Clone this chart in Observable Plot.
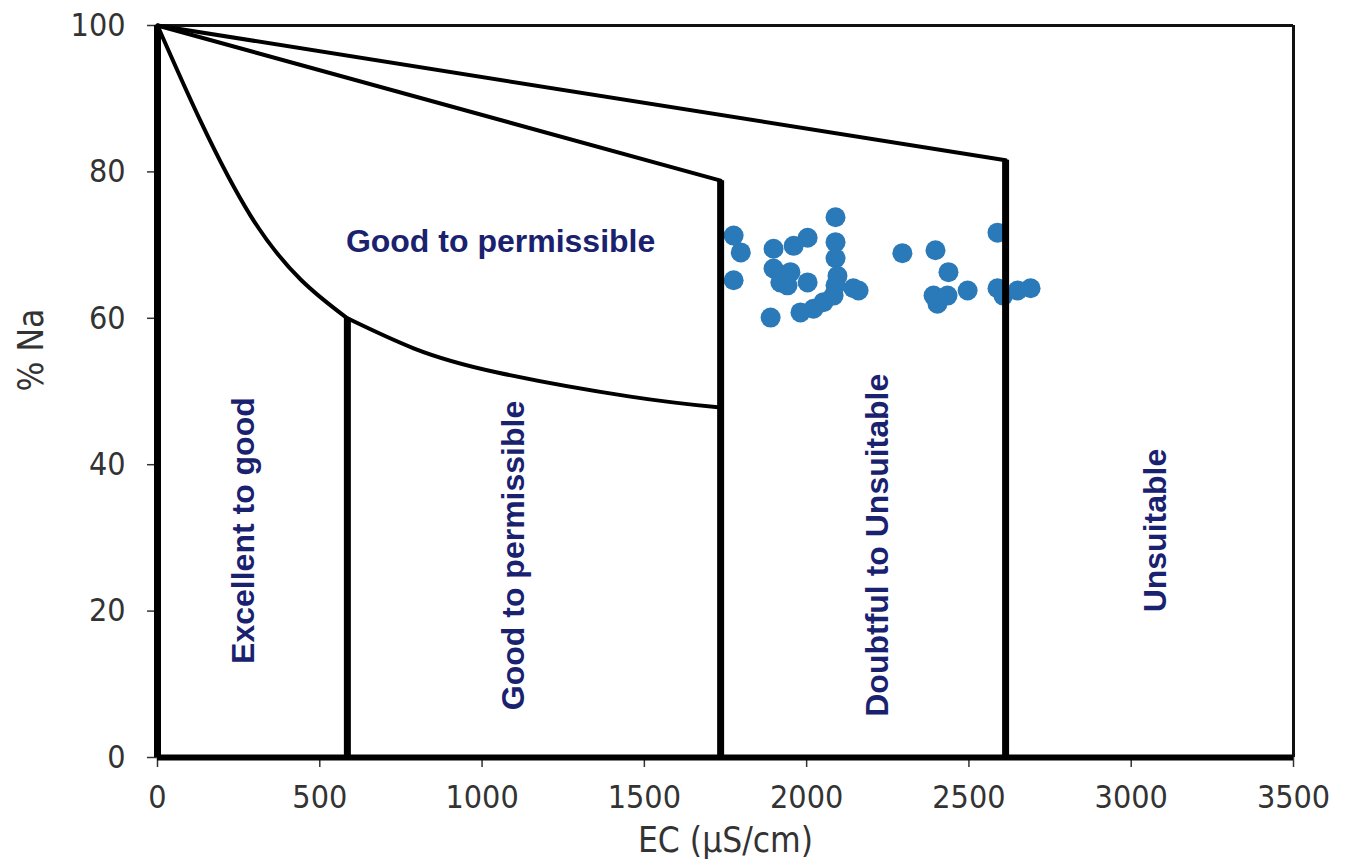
<!DOCTYPE html>
<html><head><meta charset="utf-8">
<script src="https://cdn.jsdelivr.net/npm/d3@7"></script>
<script src="https://cdn.jsdelivr.net/npm/@observablehq/plot@0.6"></script>
<style>body{margin:0;background:#fff}</style>
</head><body><div id="chart"></div>
<script>
// Sample points: EC (µS/cm) and % Na
const sampleEC = [1775,1797,1775,1898,2003,1960,1898,1919,2003,1950,1941,1889,1981,2021,2052,2083,2089,2089,2089,2095,2089,2144,2160,2295,2397,2437,2391,2403,2434,2496,2588,2588,2606,2650,2690];
const sampleNa = [71.3,69.0,65.2,69.5,71.0,69.9,66.8,64.9,64.9,66.3,64.5,60.1,60.8,61.3,62.2,63.1,73.8,70.4,68.2,65.8,64.5,64.1,63.8,68.9,69.3,66.3,63.1,62.0,63.1,63.8,71.7,64.1,63.1,63.8,64.1];

// Boundary: Excellent-to-good curve
const excellentCurveEC = [0,132,287,441,585];
const excellentCurveNa = [100,87,74,65.3,60];
// Boundary: Good-to-permissible lower curve
const goodCurveEC = [585,789,1047,1457,1735];
const goodCurveNa = [60,55.9,52.6,49.3,47.8];
// Upper straight boundaries
const goodTopEC = [0,1735];
const goodTopNa = [100,78.8];
const doubtfulTopEC = [0,2613];
const doubtfulTopNa = [100,81.6];
// Vertical dividers
const dividerEC = [585,1735,2613];
const dividerTopNa = [60,78.8,81.6];

// Zone labels
const zoneText = ["Excellent to good","Good to permissible","Doubtful to Unsuitable","Unsuitable"];
const zoneEC = [265,1097,2218,3075];
const zoneNa = [31,27.6,29,31];
const topZoneText = ["Good to permissible"];
const topZoneEC = [1057];
const topZoneNa = [70.4];

const xTicks = [0,500,1000,1500,2000,2500,3000,3500];
const yTicks = [0,20,40,60,80,100];

const toXY = (xs, ys) => xs.map((x, i) => ({x, y: ys[i]}));
const samples = toXY(sampleEC, sampleNa);
const excellentCurve = toXY(excellentCurveEC, excellentCurveNa);
const goodCurve = toXY(goodCurveEC, goodCurveNa);
const goodTop = toXY(goodTopEC, goodTopNa);
const doubtfulTop = toXY(doubtfulTopEC, doubtfulTopNa);
const dividers = dividerEC.map((x, i) => ({x, top: dividerTopNa[i]}));
const zones = zoneText.map((t, i) => ({t, x: zoneEC[i], y: zoneNa[i]}));
const topZones = topZoneText.map((t, i) => ({t, x: topZoneEC[i], y: topZoneNa[i]}));

const tickFont = "'DejaVu Sans Condensed', 'DejaVu Sans', sans-serif";
const labelFont = "'Liberation Sans', Arial, sans-serif";
const navy = "#1a2270";
const gray = "#333";

const chart = Plot.plot({
  width: 1346,
  height: 865,
  marginLeft: 157,
  marginRight: 53,
  marginTop: 25,
  marginBottom: 108,
  style: {fontFamily: tickFont, background: "#fff", overflow: "visible"},
  x: {domain: [0, 3500]},
  y: {domain: [0, 100]},
  marks: [
    Plot.axisX({ticks: xTicks, tickFormat: d => String(d), tickSize: 10, tickPadding: 18, fontSize: 32, label: null, fontFamily: tickFont, color: gray, strokeWidth: 1.5}),
    Plot.axisY({ticks: yTicks, tickFormat: d => String(d), tickSize: 10, tickPadding: 22, fontSize: 32, label: null, fontFamily: tickFont, color: gray, strokeWidth: 1.5}),
    Plot.text(["% Na"], {text: d => d, frameAnchor: "left", dx: -126, rotate: -90, fontSize: 35, fontFamily: tickFont, fill: gray}),
    Plot.text(["EC (µS/cm)"], {text: d => d, frameAnchor: "bottom", dy: 94, fontSize: 35, fontFamily: tickFont, fill: gray}),
    // frame
    Plot.ruleY([100], {stroke: "#111", strokeWidth: 3}),
    Plot.ruleX([3500], {stroke: "#111", strokeWidth: 3}),
    // samples
    Plot.dot(samples, {x: "x", y: "y", r: 10, fill: "#2a79b8", stroke: "none"}),
    // boundaries
    Plot.line(excellentCurve, {x: "x", y: "y", curve: "natural", stroke: "#000", strokeWidth: 4}),
    Plot.line(goodCurve, {x: "x", y: "y", curve: "natural", stroke: "#000", strokeWidth: 4}),
    Plot.line(goodTop, {x: "x", y: "y", stroke: "#000", strokeWidth: 4}),
    Plot.line(doubtfulTop, {x: "x", y: "y", stroke: "#000", strokeWidth: 4}),
    Plot.ruleX(dividers, {x: "x", y1: 0, y2: "top", stroke: "#000", strokeWidth: 7}),
    Plot.ruleY([0], {stroke: "#000", strokeWidth: 6}),
    Plot.ruleX([0], {stroke: "#000", strokeWidth: 7}),
    // zone labels
    Plot.text(zones, {x: "x", y: "y", text: "t", rotate: -90, fontSize: 32, fontWeight: "bold", fontFamily: labelFont, fill: navy}),
    Plot.text(topZones, {x: "x", y: "y", text: "t", fontSize: 32, fontWeight: "bold", fontFamily: labelFont, fill: navy})
  ]
});
document.getElementById("chart").appendChild(chart);
</script>
</body></html>
